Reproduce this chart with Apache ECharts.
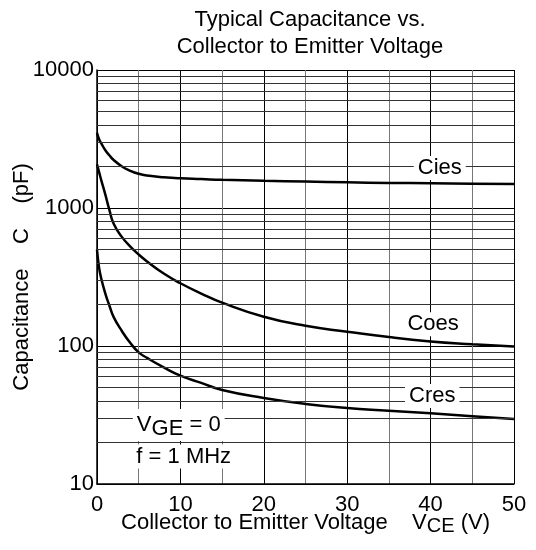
<!DOCTYPE html>
<html>
<head>
<meta charset="utf-8">
<script src="https://cdn.jsdelivr.net/npm/echarts@6/dist/echarts.min.js"></script>
<style>
  html, body { margin: 0; padding: 0; background: #fff; }
  #chart { width: 536px; height: 550px; }
</style>
</head>
<body>
<div id="chart"></div>
<script>
// 数据：近似值
const vce = [0, 0.25, 0.5, 1, 1.5, 2, 3, 4, 5, 6, 8, 10, 12.5, 15, 20, 25, 30, 35, 40, 45, 50];
const cies = [3500, 3150, 2950, 2620, 2400, 2230, 2000, 1860, 1770, 1720, 1670, 1640, 1620, 1600, 1575, 1555, 1535, 1520, 1510, 1500, 1490];
const coes = [2070, 1820, 1600, 1250, 960, 770, 615, 525, 460, 410, 335, 285, 240, 206, 163, 140, 127, 116, 108, 103, 99];
const cres = [500, 370, 310, 240, 195, 162, 128, 105, 90, 82, 70, 61, 54, 48, 42, 38, 35.5, 34, 32.5, 31, 29.6];

// 对数坐标的次网格线 (2..9 每十倍)
const minorGrid = [20, 30, 40, 50, 60, 70, 80, 90,
  200, 300, 400, 500, 600, 700, 800, 900,
  2000, 3000, 4000, 5000, 6000, 7000, 8000, 9000];

const FONT = 'Liberation Sans, Arial, Helvetica, sans-serif';
const FS = 22;

const toPairs = (ys) => vce.map((v, i) => [v, ys[i]]);

const curve = (name, ys) => ({
  name: name,
  type: 'line',
  data: toPairs(ys),
  smooth: 0.5,
  symbol: 'none',
  z: 3,
  lineStyle: { color: '#000', width: 2.5 }
});

const chart = echarts.init(document.getElementById('chart'));

const labelBox = {
  show: true,
  position: 'inside',
  color: '#000',
  fontFamily: FONT,
  fontSize: FS,
  backgroundColor: '#fff',
  padding: [1, 4, 1, 4]
};

const option = {
  animation: false,
  title: {
    text: 'Typical Capacitance vs.\nCollector to Emitter Voltage',
    left: 305,
    top: 1,
    textAlign: 'center',
    textStyle: {
      fontFamily: FONT,
      fontSize: FS,
      fontWeight: 'normal',
      color: '#000',
      lineHeight: 27
    }
  },
  grid: { left: 97, right: 22, top: 70, bottom: 66, outerBoundsMode: 'none', containLabel: false },
  xAxis: {
    type: 'value',
    min: 0,
    max: 50,
    interval: 10,
    name: 'Collector to Emitter Voltage    V{sub|CE} (V)',
    nameLocation: 'middle',
    nameMoveOverlap: false,
    nameGap: 26,
    nameTextStyle: {
      fontFamily: FONT,
      fontSize: FS,
      color: '#000',
      rich: {
        sub: { fontFamily: FONT, fontSize: 20, color: '#000', padding: [6, 0, 0, 0] }
      }
    },
    axisLine: { show: true, lineStyle: { color: '#000', width: 1.5 } },
    axisTick: { show: false },
    axisLabel: { fontFamily: FONT, fontSize: FS, color: '#000', margin: 10 },
    splitLine: { show: true, lineStyle: { color: '#000', width: 1 } },
    minorTick: { show: false, splitNumber: 2 },
    minorSplitLine: { show: true, lineStyle: { color: '#777', width: 1 } }
  },
  yAxis: {
    type: 'log',
    logBase: 10,
    min: 10,
    max: 10000,
    name: 'Capacitance    C    (pF)',
    nameLocation: 'middle',
    nameMoveOverlap: false,
    nameGap: 64,
    nameTextStyle: { fontFamily: FONT, fontSize: FS, color: '#000' },
    axisLine: { show: true, lineStyle: { color: '#000', width: 1.5 } },
    axisTick: { show: false },
    axisLabel: { fontFamily: FONT, fontSize: FS, color: '#000', margin: 3, formatter: (v) => String(v) },
    splitLine: { show: true, lineStyle: { color: '#000', width: 1 } }
  },
  series: [
    {
      name: 'grid',
      type: 'line',
      data: [],
      z: 1,
      silent: true,
      markLine: {
        silent: true,
        symbol: 'none',
        label: { show: false },
        lineStyle: { color: '#333', width: 1, type: 'solid' },
        data: minorGrid.map(v => ({ yAxis: v }))
      }
    },
    curve('Cies', cies),
    curve('Coes', coes),
    curve('Cres', cres),
    {
      name: 'labels',
      type: 'line',
      data: [],
      z: 5,
      markPoint: {
        symbol: 'rect',
        symbolSize: 0,
        silent: true,
        label: labelBox,
        data: [
          { coord: [41.1, 1950], value: 'Cies' },
          { coord: [40.3, 144], value: 'Coes' },
          { coord: [40.2, 43.4], value: 'Cres' },
          {
            coord: [9.8, 26.8], value: 'vge',
            label: {
              formatter: 'V{sub|GE} = 0',
              rich: { sub: { fontFamily: FONT, fontSize: FS, color: '#000', padding: [8, 0, 0, 0] } }
            }
          },
          { coord: [10.4, 15.8], value: 'f = 1 MHz' }
        ]
      }
    }
  ]
};

chart.setOption(option);
window.addEventListener('resize', () => chart.resize());
</script>
</body>
</html>
